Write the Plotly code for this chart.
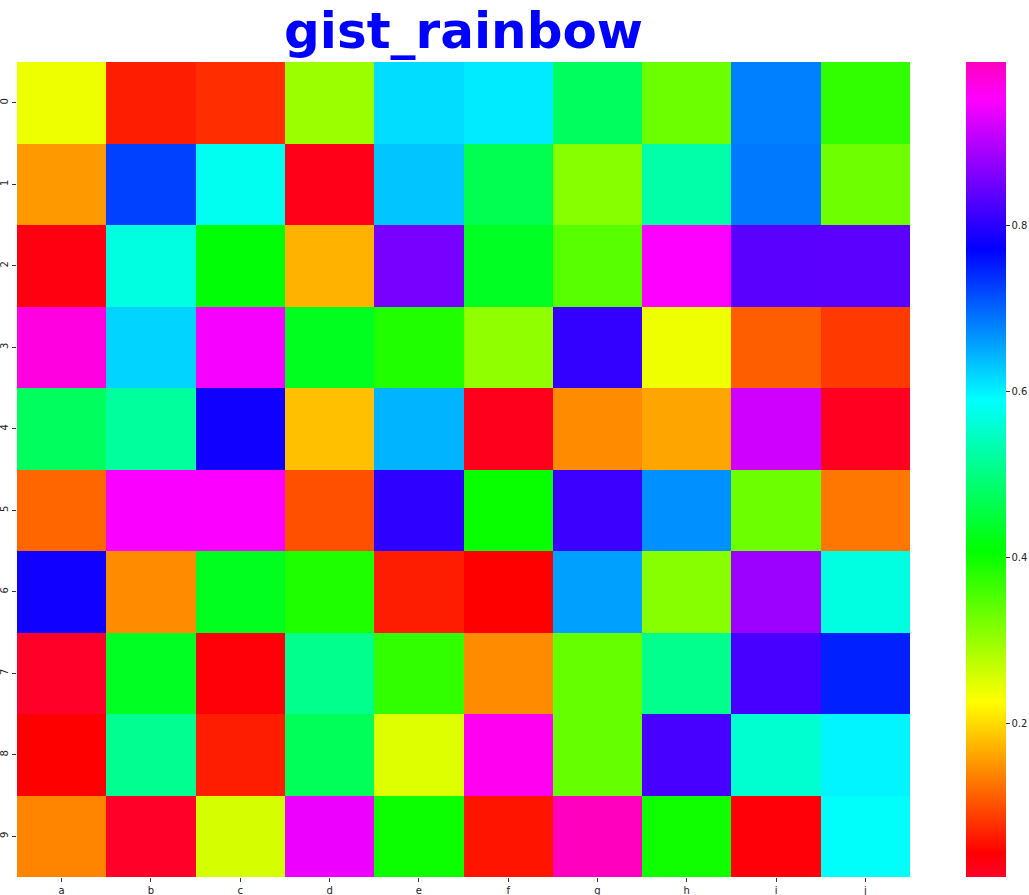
import plotly.graph_objects as go

columns = ["a", "b", "c", "d", "e", "f", "g", "h", "i", "j"]
rows = ["0", "1", "2", "3", "4", "5", "6", "7", "8", "9"]

row0 = [0.238, 0.065, 0.076, 0.297, 0.615, 0.605, 0.475, 0.331, 0.681, 0.373]
row1 = [0.153, 0.726, 0.580, 0.027, 0.632, 0.465, 0.311, 0.528, 0.686, 0.329]
row2 = [0.032, 0.569, 0.412, 0.172, 0.856, 0.433, 0.345, 0.952, 0.835, 0.836]
row3 = [0.974, 0.621, 0.946, 0.430, 0.385, 0.305, 0.808, 0.237, 0.111, 0.085]
row4 = [0.475, 0.520, 0.783, 0.181, 0.644, 0.024, 0.144, 0.162, 0.919, 0.021]
row5 = [0.117, 0.949, 0.950, 0.101, 0.804, 0.402, 0.814, 0.669, 0.331, 0.129]
row6 = [0.783, 0.144, 0.430, 0.386, 0.065, 0.044, 0.658, 0.311, 0.882, 0.569]
row7 = [0.0145, 0.433, 0.038, 0.508, 0.373, 0.144, 0.335, 0.508, 0.822, 0.749]
row8 = [0.044, 0.511, 0.065, 0.471, 0.250, 0.963, 0.335, 0.822, 0.557, 0.598]
row9 = [0.138, 0.015, 0.256, 0.940, 0.400, 0.058, 0.9976, 0.396, 0.038, 0.588]

values = [row0, row1, row2, row3, row4, row5, row6, row7, row8, row9]

gist_rainbow = [
    [0.000, "rgb(255,0,41)"],
    [0.030, "rgb(255,0,0)"],
    [0.215, "rgb(255,255,0)"],
    [0.400, "rgb(0,255,0)"],
    [0.586, "rgb(0,255,255)"],
    [0.770, "rgb(0,0,255)"],
    [0.954, "rgb(255,0,255)"],
    [1.000, "rgb(255,0,191)"],
]

fig = go.Figure(
    go.Heatmap(
        z=values,
        x=columns,
        y=rows,
        colorscale=gist_rainbow,
        colorbar=dict(
            thickness=40,
            lenmode="pixels",
            len=815,
            x=(966 - 17) / 893,
            xanchor="left",
            y=0.5,
            yanchor="middle",
            xpad=0,
            ypad=0,
            outlinewidth=0,
            tickvals=[0.2, 0.4, 0.6, 0.8],
            ticks="outside",
            ticklen=4,
            tickcolor="#333",
            tickfont=dict(family="DejaVu Sans", size=10, color="#222"),
        ),
    )
)

fig.update_layout(
    width=1029,
    height=895,
    margin=dict(l=17, r=119, t=62, b=18, autoexpand=False),
    paper_bgcolor="white",
    plot_bgcolor="white",
    title=dict(
        text="<b>gist_rainbow</b>",
        x=463.5 / 1029,
        xanchor="center",
        y=0.966,
        yanchor="middle",
        font=dict(family="DejaVu Sans", size=50, color="#0000ff"),
    ),
    xaxis=dict(
        automargin=False,
        ticks="outside",
        ticklen=4,
        tickcolor="#333",
        showgrid=False,
        zeroline=False,
        tickfont=dict(family="DejaVu Sans", size=10, color="#222"),
    ),
    yaxis=dict(
        automargin=False,
        autorange="reversed",
        ticks="outside",
        ticklen=4,
        tickcolor="#333",
        tickangle=-90,
        showgrid=False,
        zeroline=False,
        tickfont=dict(family="DejaVu Sans", size=10, color="#222"),
    ),
)

fig.write_html("out.html")
